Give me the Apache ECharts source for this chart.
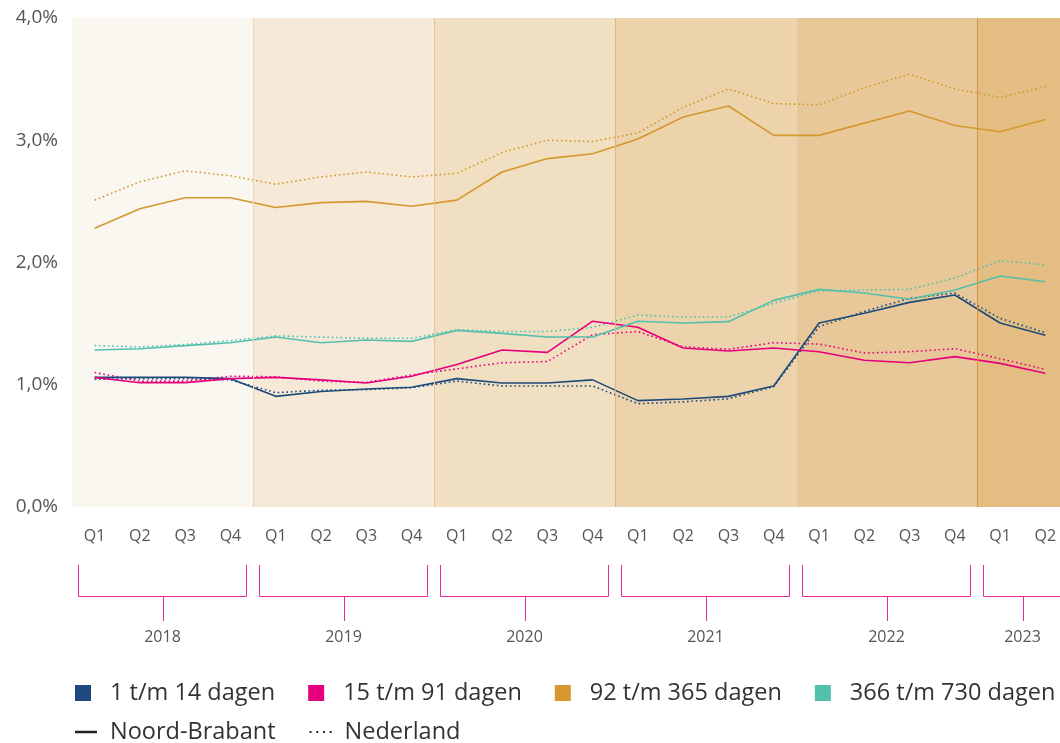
<!DOCTYPE html>
<html>
<head>
<meta charset="utf-8">
<script src="https://cdn.jsdelivr.net/npm/echarts@6/dist/echarts.min.js"></script>
<style>
  html, body { margin: 0; padding: 0; background: #fff; overflow: hidden; }
  #chart { width: 1068px; height: 743px; }
</style>
</head>
<body>
<div id="chart"></div>
<script>
// categories
const quarters = ['Q1', 'Q2', 'Q3', 'Q4', 'Q1', 'Q2', 'Q3', 'Q4', 'Q1', 'Q2', 'Q3', 'Q4',
  'Q1', 'Q2', 'Q3', 'Q4', 'Q1', 'Q2', 'Q3', 'Q4', 'Q1', 'Q2'];
const years = ['2018', '2019', '2020', '2021', '2022', '2023'];
const quartersPerYear = [4, 4, 4, 4, 4, 2];
const yTicks = [0, 1, 2, 3, 4];

const groups = ['1 t/m 14 dagen', '15 t/m 91 dagen', '92 t/m 365 dagen', '366 t/m 730 dagen'];

// Noord-Brabant (solid)
const nb1_14 = [1.06, 1.06, 1.06, 1.05, 0.905, 0.945, 0.965, 0.98, 1.05, 1.014, 1.014, 1.04,
  0.87, 0.883, 0.905, 0.99, 1.505, 1.585, 1.674, 1.734, 1.505, 1.405];
const nb15_91 = [1.06, 1.017, 1.017, 1.05, 1.06, 1.04, 1.014, 1.07, 1.165, 1.284, 1.265, 1.52,
  1.47, 1.30, 1.276, 1.30, 1.27, 1.20, 1.18, 1.23, 1.175, 1.094];
const nb92_365 = [2.28, 2.44, 2.53, 2.53, 2.45, 2.49, 2.50, 2.46, 2.51, 2.74, 2.85, 2.89,
  3.01, 3.19, 3.28, 3.04, 3.04, 3.14, 3.24, 3.12, 3.07, 3.17];
const nb366_730 = [1.284, 1.295, 1.32, 1.344, 1.39, 1.344, 1.366, 1.355, 1.445, 1.42, 1.39, 1.39,
  1.52, 1.505, 1.516, 1.69, 1.78, 1.75, 1.70, 1.775, 1.89, 1.843];

// Nederland (dotted)
const nl1_14 = [1.045, 1.05, 1.05, 1.04, 0.935, 0.955, 0.96, 0.975, 1.03, 0.99, 0.99, 0.99,
  0.845, 0.86, 0.885, 0.985, 1.475, 1.60, 1.707, 1.75, 1.543, 1.426];
const nl15_91 = [1.10, 1.03, 1.03, 1.07, 1.065, 1.03, 1.02, 1.08, 1.13, 1.18, 1.19, 1.41,
  1.435, 1.31, 1.29, 1.344, 1.333, 1.26, 1.27, 1.295, 1.213, 1.126];
const nl92_365 = [2.51, 2.66, 2.75, 2.71, 2.64, 2.70, 2.74, 2.70, 2.73, 2.90, 3.00, 2.99,
  3.06, 3.27, 3.42, 3.30, 3.29, 3.43, 3.54, 3.42, 3.35, 3.44];
const nl366_730 = [1.32, 1.31, 1.33, 1.36, 1.40, 1.39, 1.38, 1.38, 1.45, 1.435, 1.435, 1.47,
  1.57, 1.554, 1.554, 1.666, 1.767, 1.775, 1.78, 1.873, 2.015, 1.98];

const nbData = [nb1_14, nb15_91, nb92_365, nb366_730];
const nlData = [nl1_14, nl15_91, nl92_365, nl366_730];

// styles
const colors = ['#1d4a7a', '#e6007e', '#d4982f', '#52c0ad'];
const bandColors = ['#faf7f0', '#f6e9d7', '#f1dfc2', '#ecd3ab', '#e8c898', '#e4bd82'];
const sepColors = ['#ecd7ba', '#e6c493', '#dfb682', 'rgba(0,0,0,0)', '#d8913c'];
const font = 'Open Sans';
const bracketColor = '#e8289a';

// year spans on a 0..n value scale that runs along the category axis
const spans = [];
let acc = 0;
quartersPerYear.forEach(n => { spans.push([acc, acc + n]); acc += n; });

const chart = echarts.init(document.getElementById('chart'));

const series = [];

// background bands per year + separators
series.push({
  type: 'line',
  xAxisIndex: 1,
  data: [],
  silent: true,
  z: 0,
  markArea: {
    silent: true,
    data: spans.map((s, i) => [
      { xAxis: s[0], itemStyle: { color: bandColors[i] } },
      { xAxis: s[1] }
    ])
  },
  markLine: {
    silent: true,
    symbol: 'none',
    label: { show: false },
    data: spans.slice(1).map((s, i) => ({
      xAxis: s[0],
      lineStyle: { color: sepColors[i], width: 1, type: 'solid' }
    }))
  }
});

groups.forEach((g, i) => {
  series.push({
    name: g,
    type: 'line',
    data: nlData[i],
    symbol: 'none',
    color: colors[i],
    lineStyle: { width: 1.6, type: [1.6, 2.8], color: colors[i] },
    z: 2
  });
});
groups.forEach((g, i) => {
  series.push({
    name: g,
    type: 'line',
    data: nbData[i],
    symbol: 'none',
    color: colors[i],
    lineStyle: { width: 1.6, color: colors[i] },
    z: 3
  });
});

// legend-only series
series.push({ name: 'Noord-Brabant', type: 'line', data: [], symbol: 'none', color: '#222' });
series.push({ name: 'Nederland', type: 'line', data: [], symbol: 'none', color: '#222' });

// year brackets under the axis
series.push({
  type: 'custom',
  xAxisIndex: 1,
  clip: false,
  silent: true,
  encode: { x: [0, 1], y: 2 },
  data: spans.map(s => [s[0], s[1], 0]),
  renderItem: function (params, api) {
    const p0 = api.coord([api.value(0), 0]);
    const p1 = api.coord([api.value(1), 0]);
    const x0 = Math.round(p0[0] + 6) + 0.5;
    const x1 = Math.round(p1[0] - 7) + 0.5;
    const xc = Math.round((x0 + x1) / 2) + 0.5;
    const yb = Math.round(p0[1]);
    const st = { stroke: bracketColor, lineWidth: 1, fill: null };
    return {
      type: 'group',
      children: [
        { type: 'polyline', shape: { points: [[x0, yb + 58], [x0, yb + 89.5], [x1, yb + 89.5], [x1, yb + 58]] }, style: st },
        { type: 'line', shape: { x1: xc, y1: yb + 89.5, x2: xc, y2: yb + 114 }, style: st },
        { type: 'text', x: (x0 + x1) / 2, y: yb + 130, style: {
          text: years[params.dataIndex], align: 'center', verticalAlign: 'middle',
          fontFamily: font, fontSize: 16, fill: '#555' } }
      ]
    };
  }
});

const legendText = { fontFamily: font, fontSize: 23.5, color: '#333', lineHeight: 28 };

const option = {
  animation: false,
  grid: { left: 72, right: 0, top: 18, bottom: 236 },
  xAxis: [
    {
      type: 'category',
      data: quarters,
      boundaryGap: true,
      axisLine: { show: false },
      axisTick: { show: false },
      axisLabel: { margin: 21, fontFamily: font, fontSize: 16, color: '#555', interval: 0 },
      splitLine: { show: false }
    },
    {
      type: 'value',
      min: 0,
      max: quarters.length,
      show: false
    }
  ],
  yAxis: {
    type: 'value',
    min: yTicks[0],
    max: yTicks[yTicks.length - 1],
    interval: 1,
    axisLine: { show: false },
    axisTick: { show: false },
    splitLine: { show: false },
    axisLabel: {
      margin: 14,
      fontFamily: font,
      fontSize: 19,
      color: '#555',
      formatter: v => v.toFixed(1).replace('.', ',') + '%'
    }
  },
  legend: [
    {
      data: groups.map(n => ({ name: n, icon: 'rect' })),
      left: 75,
      top: 679,
      padding: 0,
      itemWidth: 16,
      itemHeight: 16,
      itemGap: 33,
      selectedMode: false,
      textStyle: Object.assign({ padding: [0, 0, 0, 14] }, legendText)
    },
    {
      data: [
        { name: 'Noord-Brabant', icon: 'rect' },
        { name: 'Nederland', icon: 'path://M0,0h2v2h-2z M7,0h2v2h-2z M14,0h2v2h-2z M21,0h2v2h-2z' }
      ],
      left: 75,
      top: 718,
      padding: 0,
      itemWidth: 22,
      itemHeight: 2.5,
      itemGap: 34,
      selectedMode: false,
      textStyle: Object.assign({ padding: [0, 0, 0, 8] }, legendText)
    }
  ],
  series: series
};

chart.setOption(option);
</script>
</body>
</html>
